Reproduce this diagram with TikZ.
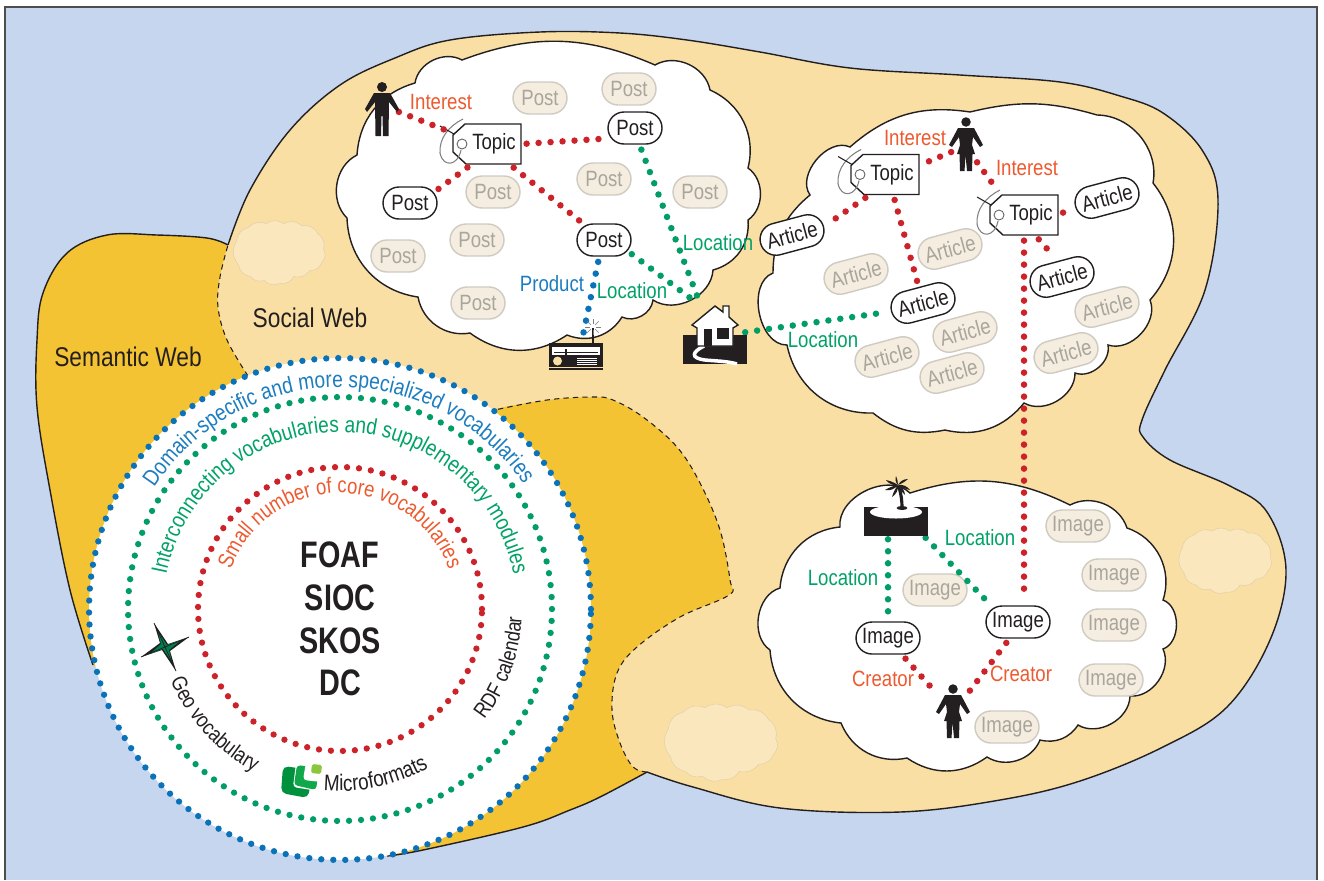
\documentclass[tikz,border=0pt]{standalone}
\usepackage{fontspec}
\setmainfont[FakeStretch=0.84]{Liberation Sans}
\newfontfamily\corefont[FakeStretch=0.78]{Liberation Sans}
\usetikzlibrary{shapes.misc,decorations.text}
\definecolor{skyblue}{HTML}{C6D6EE}
\definecolor{socialtan}{HTML}{F9DFA3}
\definecolor{semanticgold}{HTML}{F4C334}
\definecolor{puffcolor}{HTML}{FBE7BE}
\definecolor{fadedfill}{HTML}{F5EDDF}
\definecolor{fadedline}{HTML}{CFCBC2}
\definecolor{fadedtext}{HTML}{A9A59C}
\definecolor{inkblack}{HTML}{231F20}
\definecolor{dotred}{HTML}{CC2229}
\definecolor{dotgreen}{HTML}{009E66}
\definecolor{dotblue}{HTML}{0A72B8}
\definecolor{labelred}{HTML}{EE5A30}
\definecolor{labelgreen}{HTML}{00A268}
\definecolor{labelblue}{HTML}{1C7DC0}
\definecolor{logodark}{HTML}{00913F}
\definecolor{logomid}{HTML}{10A84B}
\definecolor{logolight}{HTML}{8CC63F}
\tikzset{
    bigfont/.style={font=\fontsize{15.4}{18}\selectfont},
    smallfont/.style={font=\fontsize{12.6}{15}\selectfont},
    cloudline/.style={draw=inkblack,fill=white,line width=0.8pt,every to/.style={bend left=55}},
    puffline/.style={draw=puffcolor!90!black,fill=puffcolor,line width=0.3pt,every to/.style={bend left=35}},
    pill/.style={rounded rectangle,draw=inkblack,fill=white,line width=0.8pt,inner sep=0pt,minimum height=0.64cm,text=inkblack,smallfont},
    faded/.style={draw=fadedline,fill=fadedfill,text=fadedtext},
    postpill/.style={pill,minimum width=1.08cm},
    articlepill/.style={pill,minimum width=1.3cm,rotate=15},
    imagepill/.style={pill,minimum width=1.28cm},
    dotline/.style={line width=3.7pt,line cap=round,dash pattern=on 0pt off 6.83pt,shorten <=3pt,shorten >=3pt},
    dotring/.style={line width=3.6pt,line cap=round,dash pattern=on 0pt off 6.83pt},
    redlabel/.style={text=labelred,smallfont},
    greenlabel/.style={text=labelgreen,smallfont},
    bluelabel/.style={text=labelblue,smallfont},
    ringtext/.style={decorate,decoration={text along path,text align=center,text={#1}}},
    coreword/.style={text=inkblack,font=\corefont\bfseries\fontsize{21}{24}\selectfont},
    pics/manshape/.style={code={
        \fill[inkblack] (0,5) circle[radius=0.1cm];
        \fill[inkblack] (-8,11)--(-17,27)--(-15,30)--(-7,20)--(-6.5,54)--(-1,54)--(-0.5,34)--(0.5,34)--(1,54)--(6.5,54)--(7,20)--(15,30)--(17,27)--(8,11)--cycle;
    }},
    pics/womanshape/.style={code={
        \fill[inkblack] (0,5) circle[radius=0.095cm];
        \fill[inkblack] (-8,11)--(-17,28)--(-14,30)--(-7,20)--(-6,28)--(-9,37)--(-6.5,37)--(-6,54)--(-1.5,54)--(-0.5,38)--(1,54)--(6,54)--(6.5,37)--(9,37)--(6,28)--(7,20)--(14,30)--(17,28)--(8,11)--cycle;
    }},
    pics/topictag/.style={code={
        \draw[inkblack,fill=white,line width=0.8pt] (-22,-20)--(34,-20)--(34,20)--(-21,20)--(-34,8)--(-34,-9)--cycle;
        \draw[inkblack!70,line width=0.5pt] (-25,0) circle[radius=0.1cm];
        \draw[gray,line width=0.6pt] (-26,6) .. controls (-29,22) and (-44,24) .. (-47,9) .. controls (-48,-6) and (-38,-18) .. (-24,-25);
        \draw[inkblack,line width=0.6pt] (-47,-18)--(-33,-10);
        \node[inner sep=0pt,minimum width=1.36cm,minimum height=0.8cm,text=inkblack,smallfont,xshift=0pt] (#1) {\hspace{0.28cm}Topic};
    }},
    pics/puff/.style={code={
        \draw[puffline] (-44,-12) to (-32,-26) to (-14,-30) to (4,-30) to (22,-28) to (38,-20) to (44,-4) to (42,10) to (30,18) to (14,24) to (0,31) to (-16,28) to (-30,24) to (-42,12) to cycle;
    }},
}
\newcommand{\rimsocial}{plot[smooth,tension=0.6] coordinates {(228,245) (250,190) (290,130) (340,85) (395,58) (450,40) (540,32) (620,33) (687,40) (760,52) (850,68) (960,75) (1060,82) (1120,96) (1163,113) (1202,150) (1218,200) (1205,290) (1165,370) (1142,420) (1143,437) (1170,460) (1230,486) (1267,512) (1286,570) (1270,640) (1227,707) (1163,747) (1080,781) (1000,800) (900,812) (780,808) (693,787) (647,772)}}
\newcommand{\rimright}{plot[smooth,tension=0.6] coordinates {(647,772) (633,767) (620,743) (612,710) (617,673) (637,647) (680,617) (729,595) (730,580) (720,530) (700,483) (677,447) (643,417) (613,400) (593,397) (547,400) (490,411)}}
\newcommand{\rimleft}{plot[smooth,tension=0.6] coordinates {(248,376) (227,340) (218,307) (220,277) (228,245)}}
\newcommand{\rimsemantic}{plot[smooth,tension=0.6] coordinates {(228,245) (207,238) (157,235) (107,235) (67,253) (43,293) (37,340) (37,407) (50,490) (70,590) (93,665)}}
\newcommand{\rimbottom}{plot[smooth,tension=0.6] coordinates {(387,856) (423,850) (523,827) (570,810) (600,797) (647,772)}}
\begin{document}
\begin{tikzpicture}[x=0.02cm,y=-0.02cm]
            \useasboundingbox (0,0) rectangle (1324,880);
            \fill[white] (0,0) rectangle (1324,880);
            \fill[skyblue] (5,7) rectangle (1317,880);
            \draw[inkblack!80,line width=0.7pt] (5,880)--(5,7)--(1317,7)--(1317,880);
            % the two webs
            \fill[semanticgold] \rimsemantic -- (387,856) -- (647,772) -- (760,600) -- (740,400) -- (400,300) -- cycle;
            \fill[semanticgold] \rimbottom -- (500,600) -- cycle;
            \draw[inkblack,line width=0.8pt] \rimsemantic;
            \draw[inkblack,line width=0.8pt] \rimbottom;
            \fill[socialtan] plot[smooth,tension=0.6] coordinates {(228,245) (250,190) (290,130) (340,85) (395,58) (450,40) (540,32) (620,33) (687,40) (760,52) (850,68) (960,75) (1060,82) (1120,96) (1163,113) (1202,150) (1218,200) (1205,290) (1165,370) (1142,420) (1143,437) (1170,460) (1230,486) (1267,512) (1286,570) (1270,640) (1227,707) (1163,747) (1080,781) (1000,800) (900,812) (780,808) (693,787) (647,772) (633,767) (620,743) (612,710) (617,673) (637,647) (680,617) (729,595) (730,580) (720,530) (700,483) (677,447) (643,417) (613,400) (593,397) (547,400) (490,411) (470,430) (290,440) (264,402) (248,376) (227,340) (218,307) (220,277) (228,245)};
            \draw[inkblack,line width=0.8pt] \rimsocial;
            \draw[inkblack,line width=0.6pt,dash pattern=on 3pt off 2.4pt] \rimright;
            \draw[inkblack,line width=0.6pt,dash pattern=on 3pt off 2.4pt] \rimleft;
            \pic[xscale=0.99,yscale=0.98] at (280,253) {puff};
            \pic[xscale=1,yscale=1] at (1226,561) {puff};
            \pic[xscale=1.22,yscale=1.18] at (722,743) {puff};
            % clouds
            \draw[cloudline] (415,83) to (462,60) to[bend left=22] (655,65) to (710,90) to[bend left=40] (748,168) to (748,220) to[bend left=40] (713,270) to[bend left=60] (653,300) to (622,317) to[bend left=40] (567,335) to[bend left=35] (470,333) to[bend left=45] (418,297) to[bend left=40] (347,218) to (357,155) to[bend left=35] (415,83) -- cycle;
            \draw[cloudline] (810,195) to[bend left=75] (850,147) to[bend left=25] (970,112) to[bend left=15] (1097,115) to[bend left=50] (1153,183) to[bend left=40] (1150,300) to[bend left=65] (1108,345) to[bend left=60] (1075,373) to[bend left=60] (1024,403) to[bend left=32] (945,430) to[bend left=25] (873,413) to[bend left=40] (787,345) to[bend left=80] (773,273) to[bend left=25] (810,195) -- cycle;
            \draw[cloudline] (840,527) to[bend left=70] (910,493) to[bend left=22] (1070,505) to[bend left=50] (1127,528) to[bend left=45] (1163,600) to[bend left=70] (1163,649) to[bend left=60] (1130,696) to[bend left=60] (1078,725) to[bend left=35] (1040,740) to[bend left=50] (987,757) to[bend left=35] (907,758) to[bend left=40] (841,723) to[bend left=40] (770,650) to[bend left=65] (780,588) to[bend left=40] (840,527) -- cycle;
            % post cloud
            \node[postpill] (postA) at (635,128) {Post};
            \node[postpill] (postB) at (410,203) {Post};
            \node[postpill] (postC) at (604,240) {Post};
            \foreach \x/\y [count=\i] in {540/98,629/89,493/192,604/179,700/192,477/240,398/256,478/303}{
                \node[postpill,faded] (fadedpost\i) at (\x,\y) {Post};
            }
            % article cloud
            \node[articlepill] (articleA) at (792,235) {Article};
            \node[articlepill] (articleB) at (923,303) {Article};
            \node[articlepill] (articleC) at (1107,198) {Article};
            \node[articlepill] (articleD) at (1062,277) {Article};
            \foreach \x/\y [count=\i] in {856/274,950/249,965/332,887/357,952/373,1107/307,1066/353}{
                \node[articlepill,faded] (fadedarticle\i) at (\x,\y) {Article};
            }
            % image cloud
            \node[imagepill] (imageA) at (888,638) {Image};
            \node[imagepill] (imageB) at (1018,622) {Image};
            \foreach \x/\y [count=\i] in {1078/526,1114/575,1114/625,1111/680,1007/727,935/590}{
                \node[imagepill,faded] (fadedimage\i) at (\x,\y) {Image};
            }
            % tags
            \pic at (487,144) {topictag=topicA};
            \pic at (885,174.5) {topictag=topicB};
            \pic at (1024,215) {topictag=topicC};
            % ends of connectors on the icons
            \coordinate (manhand) at (394,110);
            \coordinate (radiotop) at (582,340);
            \coordinate (houseroof) at (701,306);
            \coordinate (houseside) at (740,333);
            \coordinate (womanleft) at (956,150);
            \coordinate (womanright) at (974,158);
            \coordinate (islandbase) at (888,534);
            \coordinate (islandside) at (922,534);
            \coordinate (makerleft) at (938,695);
            \coordinate (makerright) at (965,697);
            % connectors
            \draw[dotline,dotred] (manhand) -- (topicA.162);
            \draw[dotline,dotred] (topicA.east) -- (postA.203);
            \draw[dotline,dotred] (topicA.233) -- (postB.24);
            \draw[dotline,dotred] (topicA.-42) -- (postC.142);
            \draw[dotline,dotgreen] (postA.-75) -- (houseroof);
            \draw[dotline,dotgreen] (postC.-25) -- (houseroof);
            \draw[dotline,dotblue] (postC.-106) -- (radiotop);
            \draw[dotline,dotgreen] (houseside) -- (articleB.west);
            \draw[dotline,dotred] (womanleft) -- (topicB.15);
            \draw[dotline,dotred] (womanright) -- (topicC.139);
            \draw[dotline,dotred] (topicB.233) -- (articleA.east);
            \draw[dotline,dotred] (topicB.-68) -- (articleB.north);
            \draw[dotline,dotred] (topicC.east) -- (articleC.west);
            \draw[dotline,dotred] (topicC.-61) -- (articleD.north);
            \draw[dotline,dotred] (topicC.south) -- (topicC.south |- imageB.north);
            \draw[dotline,dotgreen] (islandbase) -- (imageA.north);
            \draw[dotline,dotgreen] (islandside) -- (imageB.150);
            \draw[dotline,dotred] (imageA.-50) -- (makerleft);
            \draw[dotline,dotred] (imageB.-117) -- (makerright);
            % people
            \pic at (382,82) {manshape};
            \pic at (966,117) {womanshape};
            \pic at (953,684) {womanshape};
            % radio
            \draw[inkblack,line width=0.9pt] (593,343)--(593,328);
            \foreach \a in {0,45,...,315}{
                \draw[gray,line width=0.3pt] (593,327) ++(\a:3) -- ++(\a:5);
            }
            \fill[inkblack] (549,343) rectangle (603,367);
            \draw[inkblack,line width=0.6pt] (549,369)--(603,369);
            \fill[white] (552,347) rectangle (600,355);
            \draw[inkblack,line width=0.4pt] (554,352)--(598,352);
            \draw[inkblack,line width=0.7pt] (566,349)--(566,355);
            \fill[socialtan] (557.5,361) circle[radius=0.09cm];
            \foreach \y in {358,360,362,364}{
                \draw[white,line width=0.4pt] (577,\y)--(597,\y);
            }
            % house
            \fill[inkblack] (683,335) rectangle (747,364);
            \draw[white,line width=2pt] (704,346) .. controls (692,352) and (690,358) .. (705,360) .. controls (715,361) and (727,361) .. (737,364);
            \draw[inkblack,fill=white,line width=0.8pt] (692,325)--(715,306)--(723,312)--(723,306)--(729,306)--(729,317)--(738,325)--(733,328)--(733,346)--(697,346)--(697,328)--cycle;
            \fill[inkblack] (704,329) rectangle (712,346);
            \fill[inkblack] (717,328) rectangle (729,339);
            % island
            \fill[inkblack] (864,507) rectangle (928,536);
            \fill[white] (896,512) ellipse[x radius=0.52cm,y radius=0.13cm];
            \draw[inkblack,line width=1.8pt] (902,508) .. controls (902,500) and (901,494) .. (899,487);
            \fill[inkblack] (902,508) ellipse[x radius=0.11cm,y radius=0.04cm];
            \foreach \tx/\ty in {885/490,886/480,896/476,908/479,910/490,892/497,905/495}{
                \fill[inkblack] (898,485) to[bend left=30] (\tx,\ty) to[bend left=10] (898,485);
            }
            % rings
            \begin{scope}[shift={(340,609)}]
                \fill[white] (0,0) circle[radius=5.02cm];
                \draw[dotring,dotblue] (0,0) circle[radius=5.02cm];
                \draw[dotring,dotgreen] (0,0) circle[radius=4.24cm];
                \draw[dotring,dotred] (0,0) circle[radius=2.84cm];
                \path[ringtext={|\fontsize{13}{15}\selectfont\color{labelblue}|Domain-specific and more specialized vocabularies}] (148:4.44cm) arc[start angle=148,end angle=33,radius=4.44cm];
                \path[ringtext={|\fontsize{12.9}{15}\selectfont\color{labelgreen}|Interconnecting vocabularies and supplementary modules}] (172:3.54cm) arc[start angle=172,end angle=8,radius=3.54cm];
                \path[ringtext={|\fontsize{12.5}{15}\selectfont\color{labelred}|Small number of core vocabularies}] (165:2.32cm) arc[start angle=165,end angle=15,radius=2.32cm];
                \path[ringtext={|\fontsize{12.2}{15}\selectfont\color{inkblack}|Geo vocabulary}] (198:3.68cm) arc[start angle=198,end angle=247,radius=3.68cm];
                \path[ringtext={|\fontsize{12.8}{15}\selectfont\color{inkblack}|Microformats}] (260:3.64cm) arc[start angle=260,end angle=304,radius=3.64cm];
                \path[ringtext={|\fontsize{12.2}{15}\selectfont\color{inkblack}|RDF calendar}] (-41:3.64cm) arc[start angle=-41,end angle=1,radius=3.64cm];
            \end{scope}
            \node[coreword] (foaf) at (340,555) {FOAF};
            \node[coreword] (sioc) at (340,598) {SIOC};
            \node[coreword] (skos) at (340,641) {SKOS};
            \node[coreword] (dc) at (340,683) {DC};
            % compass
            \fill[inkblack] (154,623)--(168,644)--(189,637)--(170,651)--(176,671)--(162,650)--(141,657)--(160,643)--cycle;
            \fill[dotgreen!80!black] (158,632)--(167,645)--(181,640)--(169,650)--(172,662)--(163,649)--(150,654)--(161,644)--cycle;
            \draw[inkblack,line width=0.4pt] (154,623)--(176,671) (141,657)--(189,637);
            % microformats
            \fill[logodark,rounded corners=3pt] (283,766)--(313,770)--(308,798)--(281,793)--cycle;
            \fill[white,rounded corners=2pt] (296,763)--(322,767)--(318,791)--(293,787)--cycle;
            \fill[logomid,rounded corners=2pt] (297,765)--(319,768)--(316,790)--(294,785)--cycle;
            \fill[white,rounded corners=2pt] (306,762)--(324,764)--(322,782)--(303,780)--cycle;
            \fill[logolight,rounded corners=1pt] (312,764)--(322,765)--(321,774)--(311,773)--cycle;
            % labels
            \node[text=inkblack,bigfont] (semanticlabel) at (128,357) {Semantic Web};
            \node[text=inkblack,bigfont] (sociallabel) at (310,318) {Social Web};
            \node[redlabel] (interestA) at (441,102) {Interest};
            \node[redlabel] (interestB) at (915,138) {Interest};
            \node[redlabel] (interestC) at (1027,168) {Interest};
            \node[redlabel] (creatorA) at (883,679) {Creator};
            \node[redlabel] (creatorB) at (1021,674) {Creator};
            \node[bluelabel] (productlabel) at (552,284) {Product};
            \node[greenlabel] (locationA) at (718,243) {Location};
            \node[greenlabel] (locationB) at (632,291) {Location};
            \node[greenlabel] (locationC) at (823,340) {Location};
            \node[greenlabel] (locationD) at (980,538) {Location};
            \node[greenlabel] (locationE) at (843,578) {Location};
\end{tikzpicture}
\end{document}
